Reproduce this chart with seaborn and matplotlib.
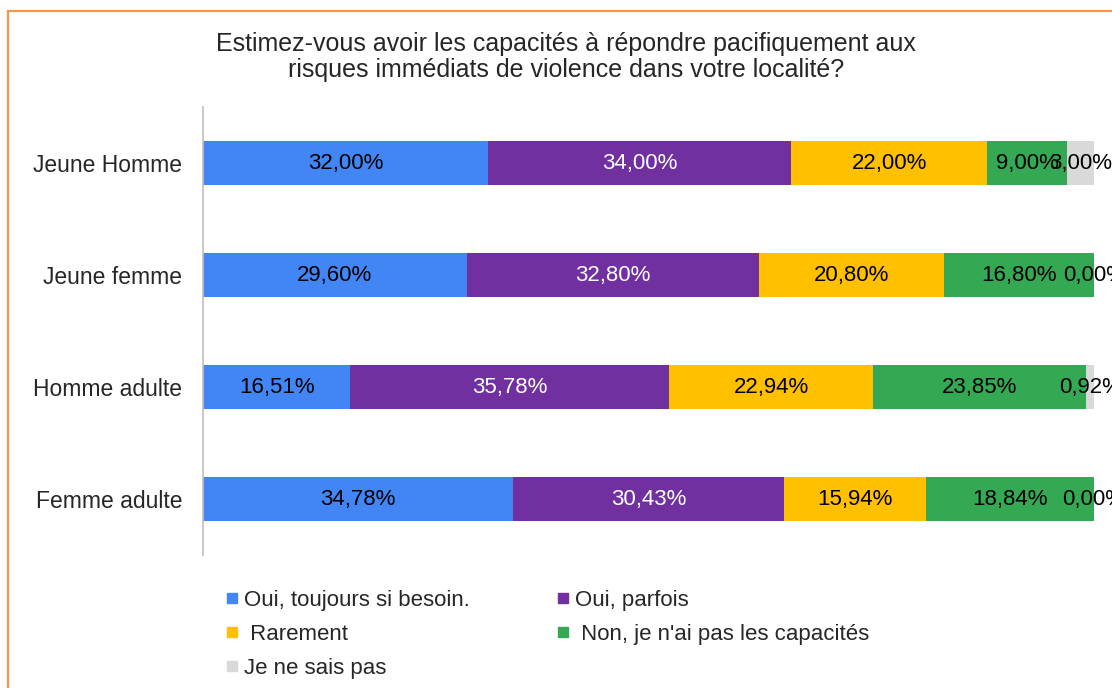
import pandas as pd
import matplotlib.pyplot as plt
import seaborn as sns
from matplotlib.lines import Line2D

sns.set_style("white")
plt.rcParams['font.family'] = ['Liberation Sans', 'DejaVu Sans']

# données
groupes = ['Jeune Homme', 'Jeune femme', 'Homme adulte', 'Femme adulte']
reponses = ['Oui, toujours si besoin.', 'Oui, parfois', ' Rarement',
            " Non, je n'ai pas les capacités", 'Je ne sais pas']
oui_toujours = [32.00, 29.60, 16.51, 34.78]
oui_parfois = [34.00, 32.80, 35.78, 30.43]
rarement = [22.00, 20.80, 22.94, 15.94]
non_capable = [9.00, 16.80, 23.85, 18.84]
ne_sais_pas = [3.00, 0.00, 0.92, 0.00]
couleurs = ['#4285F4', '#7030A0', '#FFC000', '#34A853', '#D9D9D9']
couleurs_texte = ['black', 'white', 'black', 'black', 'black']

series = [oui_toujours, oui_parfois, rarement, non_capable, ne_sais_pas]

fig = plt.figure(figsize=(11.12, 6.88), dpi=100)
ax = fig.add_axes([0.1826, 0.193, 0.8014, 0.6515])

left = [0.0] * len(groupes)
for vals, col, tcol in zip(series, couleurs, couleurs_texte):
    df = pd.DataFrame({'groupe': groupes, 'val': vals})
    n_before = len(ax.containers)
    sns.barplot(data=df, x='val', y='groupe', color=col, orient='h',
                width=0.39, left=left, ax=ax, saturation=1, linewidth=0)
    cont = ax.containers[n_before]
    ax.bar_label(cont, labels=[f'{v:.2f}%'.replace('.', ',') for v in vals],
                 label_type='center', color=tcol, fontsize=16)
    left = [a + b for a, b in zip(left, vals)]

ax.set_xlim(0, 100)
ax.set_ylim(3.5, -0.5)
ax.set_xlabel('')
ax.set_ylabel('')
ax.set_xticks([])
ax.tick_params(axis='y', length=0, labelsize=16.5, pad=15)
for s in ['top', 'right', 'bottom']:
    ax.spines[s].set_visible(False)
ax.spines['left'].set_color('#BFBFBF')
ax.spines['left'].set_linewidth(1.2)

fig.text(0.509, 0.917, "Estimez-vous avoir les capacités à répondre pacifiquement aux\n"
         "risques immédiats de violence dans votre localité?",
         ha='center', va='center', fontsize=18, linespacing=1.12)

# légende (ordre ligne par ligne)
handles = [Line2D([], [], marker='s', linestyle='', color=c, markersize=7) for c in couleurs]
order = [0, 2, 4, 1, 3]
fig.legend([handles[i] for i in order], [reponses[i] for i in order],
           ncol=2, loc='upper left', bbox_to_anchor=(0.1955, 0.155),
           frameon=False, fontsize=16, handlelength=0.5, handletextpad=0.3,
           columnspacing=3.95, labelspacing=0.58, borderaxespad=0)

# cadre orange
fig.add_artist(Line2D([0.0072, 1.0], [0.984, 0.984], color='#F79646', linewidth=1.6))
fig.add_artist(Line2D([0.0072, 0.0072], [0.0, 0.984], color='#F79646', linewidth=1.6))

plt.savefig('out.png', dpi=100)
